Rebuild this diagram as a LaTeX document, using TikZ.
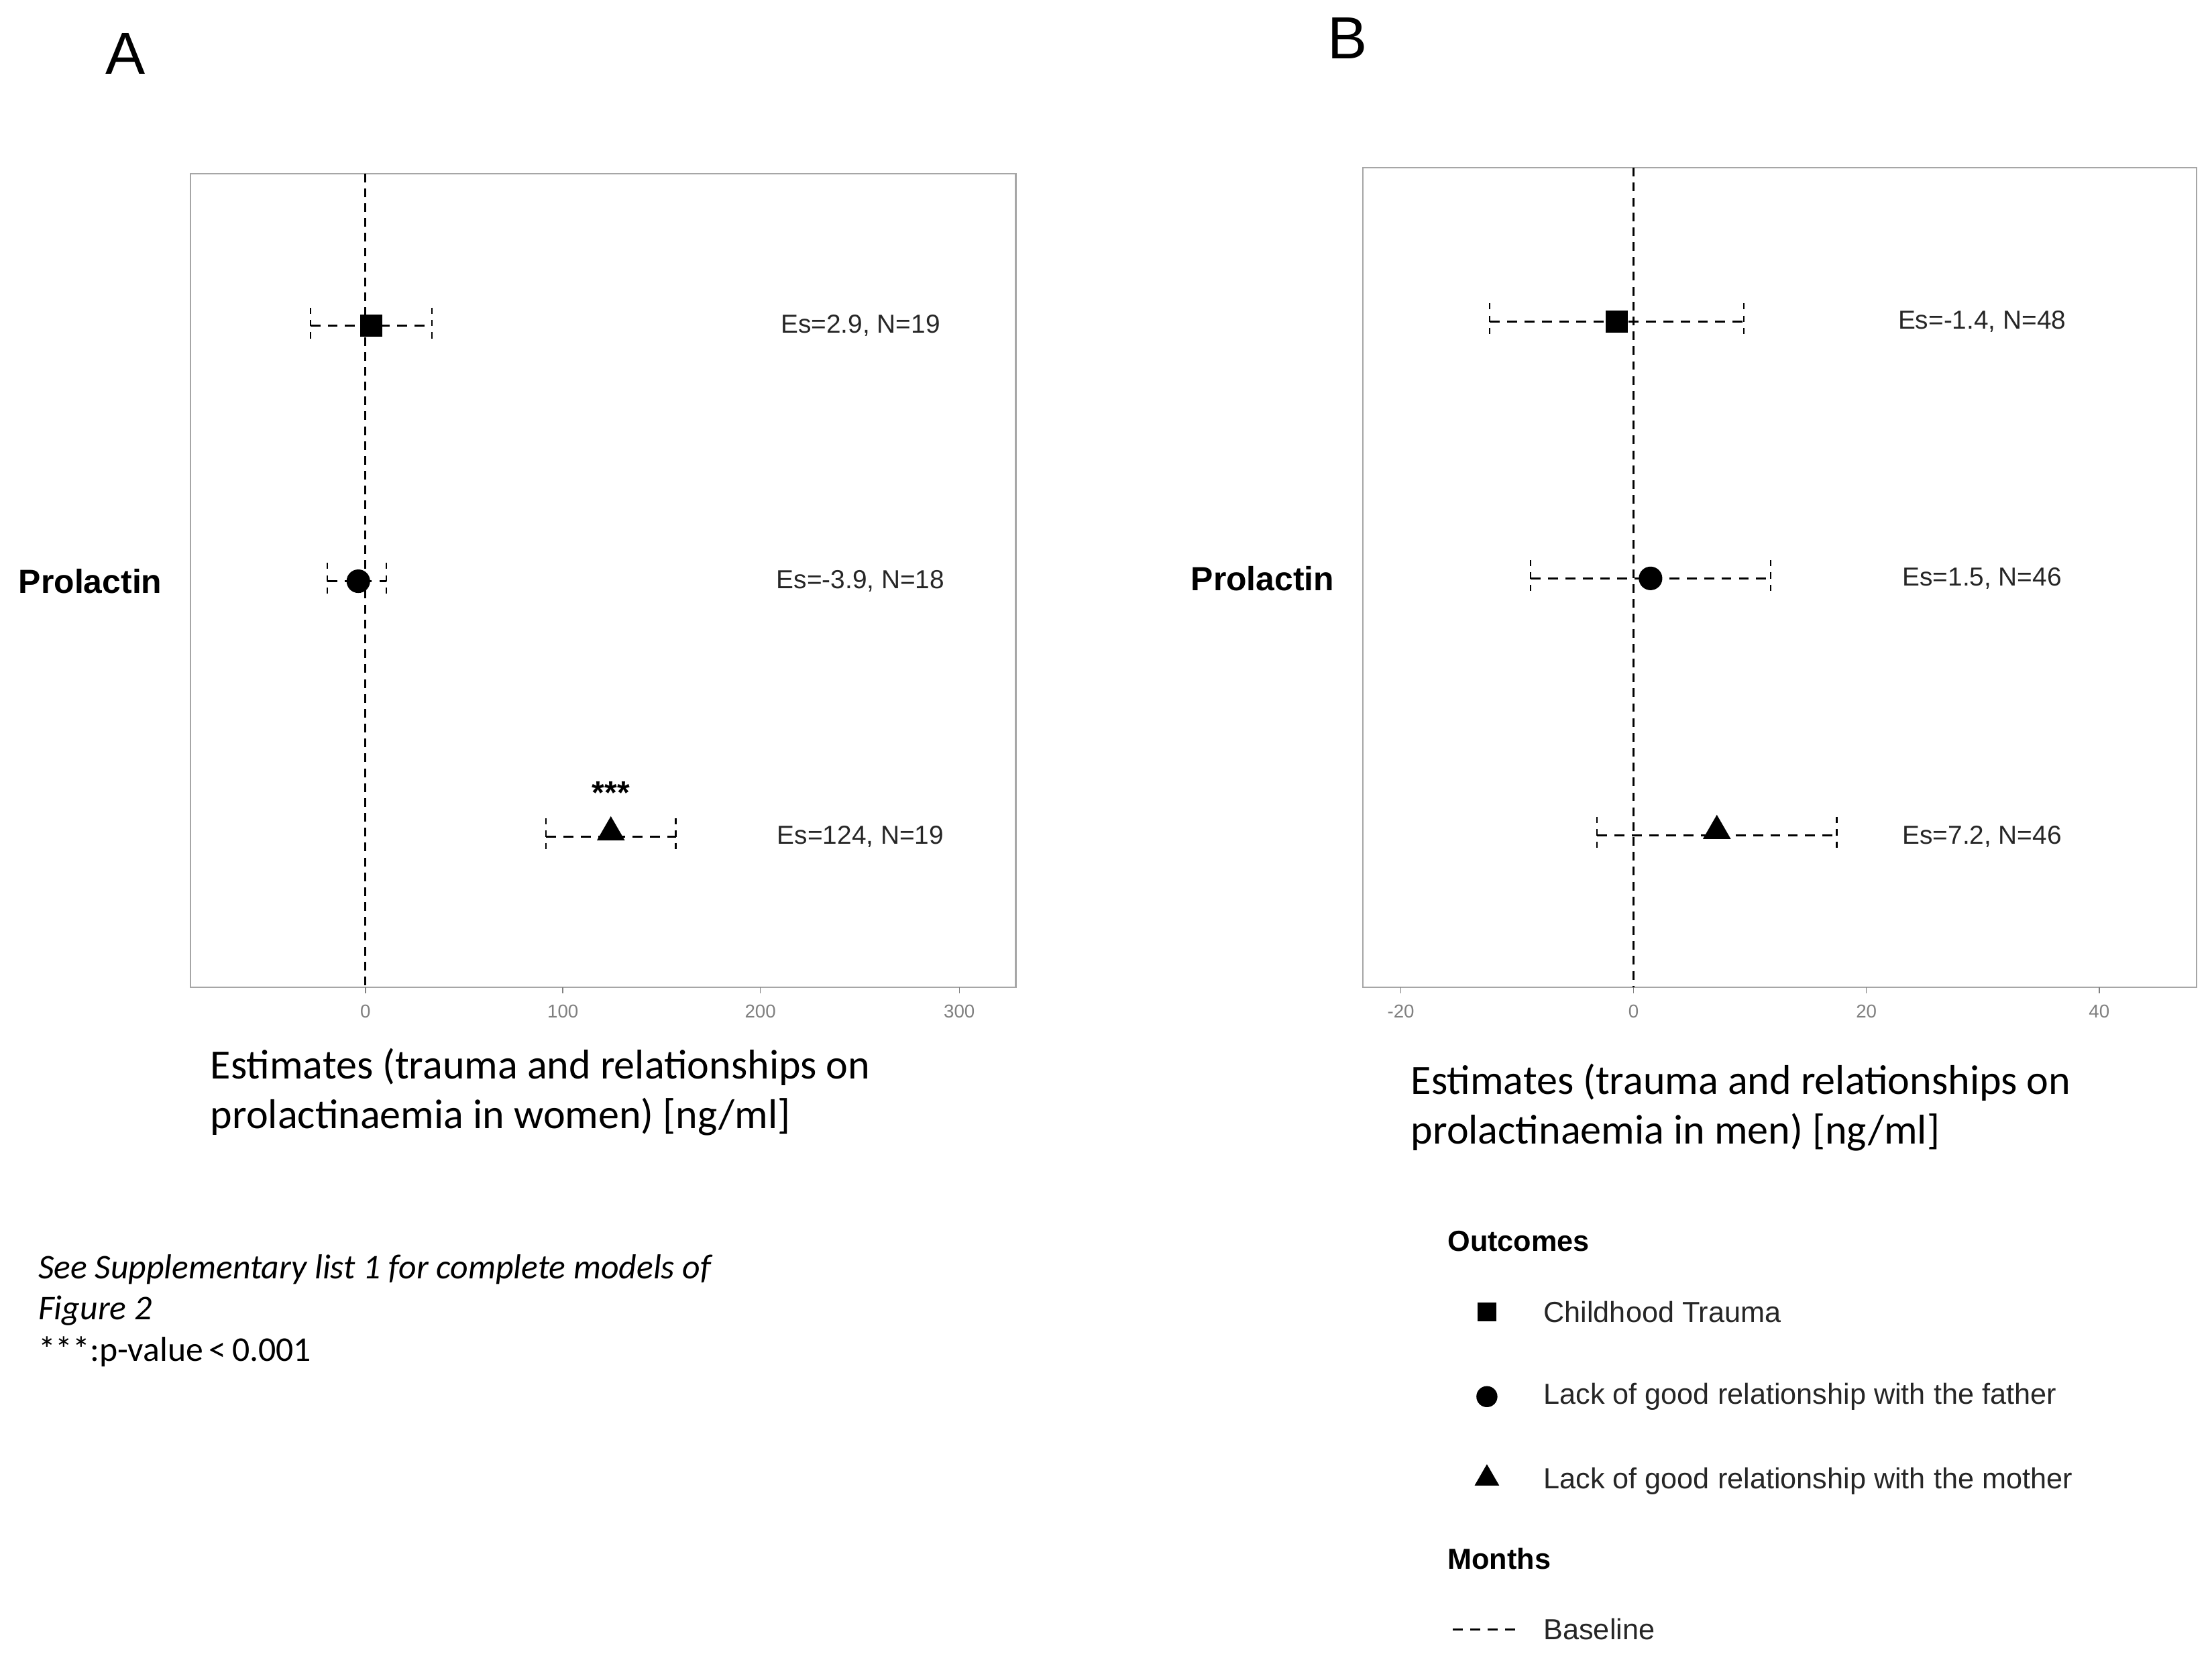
\documentclass[tikz,border=0pt]{standalone}
\usepackage{fontspec}
\setmainfont{Liberation Sans}
\newfontfamily\calfont{Carlito}
\usetikzlibrary{shapes.geometric}
\begin{document}
\begin{tikzpicture}[x=0.02cm,y=-0.02cm,
 frame/.style={draw=gray!70,line width=0.6pt},
 zline/.style={line width=0.8pt,dash pattern=on 3.5pt off 2.5pt},
 ci/.style={line width=0.8pt,dash pattern=on 4pt off 3pt},
 capln/.style={line width=0.6pt,dash pattern=on 2.5pt off 2.5pt},
 es/.style={font=\fontsize{10.5}{12}\selectfont,text=black!85},
 tick/.style={font=\fontsize{7.5}{8}\selectfont,text=gray},
 sq/.style={fill=black,minimum size=9pt,inner sep=0pt},
 ci2/.style={circle,fill=black,minimum size=9.5pt,inner sep=0pt},
 tri/.style={regular polygon,regular polygon sides=3,fill=black,minimum size=13pt,inner sep=0pt},
 xlab/.style={font=\calfont\fontsize{16.8}{20}\selectfont,align=left,anchor=west},
 ylab/.style={font=\bfseries\fontsize{13.5}{15}\selectfont},
 leg/.style={font=\fontsize{11.7}{13}\selectfont,anchor=west,text=black!85}]
\useasboundingbox (0,0) rectangle (1568,1175);
\node[font=\fontsize{24}{26}\selectfont] (A) at (89,38) {A};
\node[font=\fontsize{24}{26}\selectfont] (B) at (955,27) {B};
% Panel A
\draw[frame] (135,123) rectangle (720,700);
\draw[zline] (259,123) -- (259,700);
\foreach \x/\l in {259/0,399/100,539/200,680/300}{\draw[gray] (\x,700)--(\x,704); \node[tick] at (\x,717) {\l};}
\node[ylab] (pa) at (64,412) {Prolactin};
\foreach \a/\b/\y/\n in {220/306/231/a1,232/274/412/a2,387/479/593/a3}{
 \coordinate (\n l) at (\a,\y); \coordinate (\n r) at (\b,\y);
 \draw[ci] (\n l) -- (\n r);
 \draw[capln] (\a,\y-13) -- (\a,\y+13); \draw[capln] (\b,\y-13) -- (\b,\y+13);}
\node[sq] (ma1) at (263,231) {};
\node[ci2] (ma2) at (254,412) {};
\node[tri] (ma3) at (433,590) {};
\node[font=\bfseries\fontsize{13}{13}\selectfont] (st) at (433,562) {***};
\node[es] (ea1) at (610,231) {Es=2.9, N=19};
\node[es] (ea2) at (610,412) {Es=-3.9, N=18};
\node[es] (ea3) at (610,593) {Es=124, N=19};
\node[xlab] (xa) at (143,774) {Estimates (trauma and relationships on\\prolactinaemia in women) [ng/ml]};
% Panel B
\draw[frame] (966,119) rectangle (1557,700);
\draw[zline] (1158,119) -- (1158,700);
\foreach \x/\l in {993/-20,1158/0,1323/20,1488/40}{\draw[gray] (\x,700)--(\x,704); \node[tick] at (\x,717) {\l};}
\node[ylab] (pb) at (895,410) {Prolactin};
\foreach \a/\b/\y/\n in {1056/1236/228/b1,1085/1255/410/b2,1132/1302/592/b3}{
 \coordinate (\n l) at (\a,\y); \coordinate (\n r) at (\b,\y);
 \draw[ci] (\n l) -- (\n r);
 \draw[capln] (\a,\y-13) -- (\a,\y+13); \draw[capln] (\b,\y-13) -- (\b,\y+13);}
\node[sq] (mb1) at (1146,228) {};
\node[ci2] (mb2) at (1170,410) {};
\node[tri] (mb3) at (1217,589) {};
\node[es] (eb1) at (1405,228) {Es=-1.4, N=48};
\node[es] (eb2) at (1405,410) {Es=1.5, N=46};
\node[es] (eb3) at (1405,593) {Es=7.2, N=46};
\node[xlab] (xb) at (994,785) {Estimates (trauma and relationships on\\prolactinaemia in men) [ng/ml]};
% footnote
\node[font=\calfont\itshape\fontsize{14}{16.5}\selectfont,align=left,anchor=north west] (fn) at (21,883) {See Supplementary list 1 for complete models of\\Figure 2};
\node[font=\calfont\fontsize{14}{16}\selectfont,anchor=west] (pv) at (21,958) {***:p-value\,<\,0.001};
% legend
\node[font=\bfseries\fontsize{11.7}{13}\selectfont,anchor=west] (lo) at (1020,880) {Outcomes};
\node[sq,minimum size=7.5pt] (l1) at (1054,930) {};
\node[ci2,minimum size=8.5pt] (l2) at (1054,990) {};
\node[tri,minimum size=11.5pt] (l3) at (1054,1048) {};
\node[leg] at (1088,930) {Childhood Trauma};
\node[leg] at (1088,990) {Lack of good relationship with the father};
\node[leg] at (1088,1050) {Lack of good relationship with the mother};
\node[font=\bfseries\fontsize{11.7}{13}\selectfont,anchor=west] (lm) at (1020,1105) {Months};
\coordinate (d1) at (1030,1155); \coordinate (d2) at (1076,1155);
\draw[ci] (d1) -- (d2);
\node[leg] at (1088,1155) {Baseline};
\end{tikzpicture}
\end{document}
